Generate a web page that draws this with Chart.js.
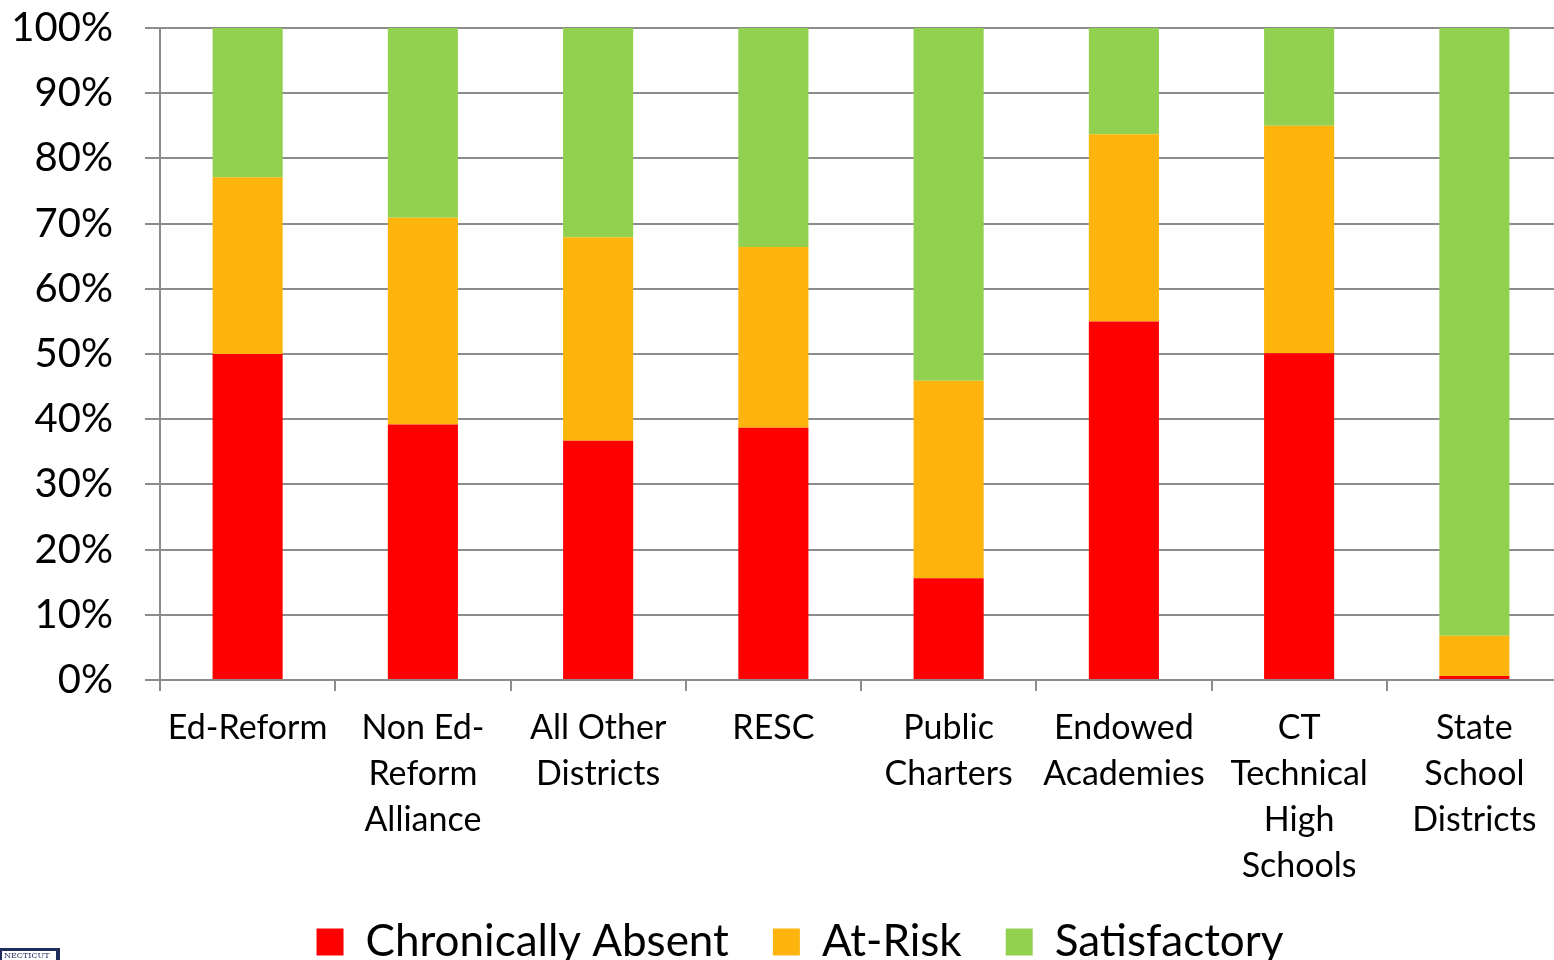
<!DOCTYPE html>
<html>
<head>
<meta charset="utf-8">
<script src="https://cdn.jsdelivr.net/npm/chart.js@4.4.1/dist/chart.umd.min.js"></script>
<style>
  html, body { margin: 0; padding: 0; background: #fff; overflow: hidden; }
  #wrap { position: absolute; left: 0; top: 0; width: 1562px; height: 988px; }
</style>
</head>
<body>
<div id="wrap"><canvas id="c"></canvas></div>
<script>
const categories = [
  ["Ed-Reform"],
  ["Non Ed-", "Reform", "Alliance"],
  ["All Other", "Districts"],
  ["RESC"],
  ["Public", "Charters"],
  ["Endowed", "Academies"],
  ["CT", "Technical", "High", "Schools"],
  ["State", "School", "Districts"]
];
const chronicallyAbsent = [50.0, 39.2, 36.7, 38.7, 15.6, 55.0, 50.1, 0.6];
const atRisk            = [27.1, 31.7, 31.2, 27.7, 30.3, 28.7, 34.9, 6.2];
const satisfactory      = [22.9, 29.1, 32.1, 33.6, 54.1, 16.3, 15.0, 93.2];
const yTicks = [0, 10, 20, 30, 40, 50, 60, 70, 80, 90, 100];

const GRID = '#8c8c8c';
const FONT = 'Lato, "Open Sans", sans-serif';

const legendShift = {
  id: 'legendShift',
  afterLayout(chart) {
    const lg = chart.legend;
    if (!lg) return;
    lg.left += 19; lg.right += 19;
    lg.top -= 14; lg.bottom -= 14;
  }
};

const logoPlugin = {
  id: 'logo',
  afterDraw(chart) {
    const ctx = chart.ctx;
    ctx.save();
    ctx.fillStyle = '#1f2d5c';
    ctx.fillRect(0, 948, 60, 14);
    ctx.fillStyle = '#ffffff';
    ctx.fillRect(2, 951, 54, 11);
    ctx.fillStyle = '#1f2d5c';
    ctx.font = '8px "DejaVu Serif", serif';
    ctx.textBaseline = 'top';
    ctx.fillText('NECTICUT', 4, 952);
    ctx.restore();
  }
};

new Chart(document.getElementById('c'), {
  type: 'bar',
  data: {
    labels: categories,
    datasets: [
      { label: 'Chronically Absent', data: chronicallyAbsent, backgroundColor: '#ff0000' },
      { label: 'At-Risk', data: atRisk, backgroundColor: '#fdb50d' },
      { label: 'Satisfactory', data: satisfactory, backgroundColor: '#92d050' }
    ]
  },
  options: {
    responsive: true,
    maintainAspectRatio: false,
    animation: false,
    layout: { padding: { top: 0, right: 0, left: 0, bottom: 0 } },
    datasets: { bar: { barPercentage: 0.4, categoryPercentage: 1.0, borderWidth: 0 } },
    plugins: {
      tooltip: { enabled: false },
      legend: {
        position: 'bottom',
        labels: {
          color: '#000',
          font: { family: FONT, size: 44 },
          boxWidth: 27,
          boxHeight: 27,
          padding: 44
        }
      }
    },
    scales: {
      x: {
        stacked: true,
        offset: true,
        grid: { display: true, drawOnChartArea: false, drawTicks: true, tickLength: 11, color: GRID, lineWidth: 2, offset: true },
        border: { display: true, color: GRID, width: 2 },
        ticks: {
          color: '#000',
          font: { family: FONT, size: 34, lineHeight: '46px' },
          padding: 14,
          maxRotation: 0,
          autoSkip: false
        },
        afterFit(scale) { scale.height = 210; }
      },
      y: {
        stacked: true,
        min: 0,
        max: 100,
        afterBuildTicks(scale) { scale.ticks = yTicks.map(v => ({ value: v })); },
        grid: { color: GRID, lineWidth: 2, tickLength: 15, drawTicks: true },
        border: { display: true, color: GRID, width: 2 },
        ticks: {
          color: '#000',
          font: { family: FONT, size: 40 },
          padding: 32,
          callback: v => v + '%'
        },
        afterFit(scale) { scale.width = 160; scale.paddingTop = 28; scale.paddingBottom = 0; }
      }
    }
  },
  plugins: [legendShift, logoPlugin]
});
</script>
</body>
</html>
